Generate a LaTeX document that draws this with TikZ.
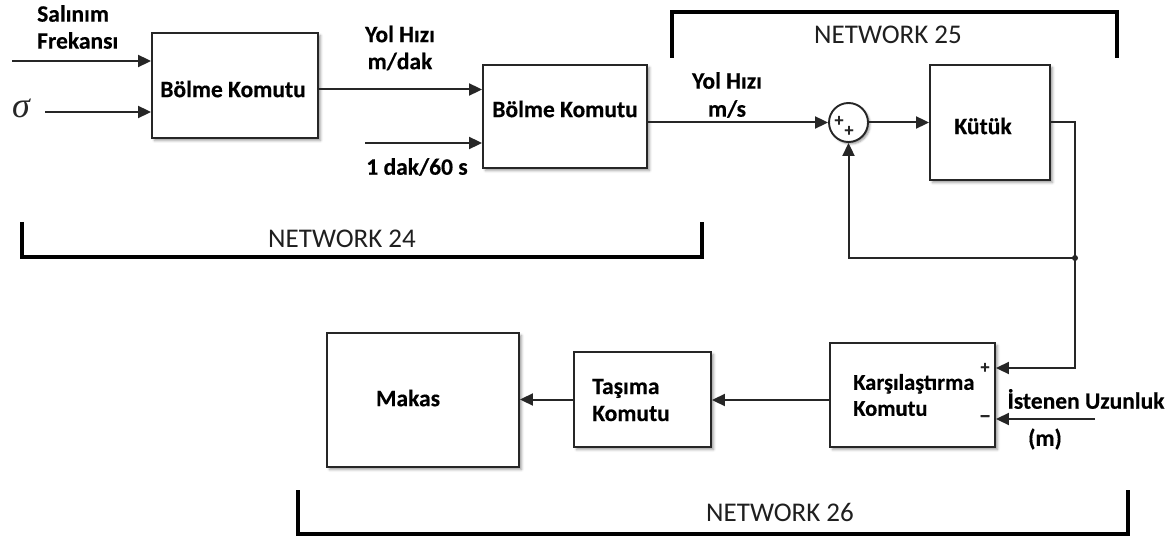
\documentclass[tikz,border=0pt]{standalone}
\usepackage{fontspec}
\setmainfont{Carlito}
\newfontfamily\greekserif{Liberation Serif}
\newfontfamily\heavylabel[FakeBold=0.35]{Carlito Bold}
\usetikzlibrary{arrows.meta,shadows.blur,calc}

\begin{document}
\begin{tikzpicture}[x=1pt,y=-1pt,
  blk/.style={draw=black!85,line width=1.9pt,fill=white,inner sep=0pt,
    blur shadow={shadow xshift=2.5pt,shadow yshift=-2.5pt,shadow blur radius=2.5pt,shadow opacity=40}},
  sumnode/.style={circle,draw=black!85,line width=1.9pt,fill=white,minimum size=39pt,inner sep=0pt,
    blur shadow={shadow xshift=2pt,shadow yshift=-2pt,shadow blur radius=2pt,shadow opacity=40}},
  arr/.style={draw=black!85,line width=2pt,-{Triangle[length=13pt,width=12pt]}},
  wire/.style={draw=black!85,line width=2pt},
  bracketline/.style={draw=black,line width=3.2pt},
  lbl/.style={font=\fontsize{23.5}{27}\selectfont\heavylabel,inner sep=0pt,text=black},
  netlbl/.style={font=\fontsize{27}{30}\selectfont,inner sep=0pt,text=black!88},
  sgn/.style={font=\fontsize{18}{18}\selectfont\heavylabel,inner sep=0pt,text=black!85},
]
\useasboundingbox (0,0) rectangle (1174,537);

% blocks
\node[blk,minimum width=166pt,minimum height=105pt] (b1) at (235,85.5) {};
\node[blk,minimum width=164pt,minimum height=103pt] (b2) at (565,116.5) {};
\node[sumnode] (s) at (848.5,122.5) {};
\node[blk,minimum width=120pt,minimum height=115pt] (k) at (990,122.5) {};
\node[blk,minimum width=165pt,minimum height=104pt] (c) at (912.5,395) {};
\node[blk,minimum width=137pt,minimum height=95pt] (t) at (642.5,399.5) {};
\node[blk,minimum width=192pt,minimum height=134pt] (m) at (423,400) {};

% block texts
\node[lbl] (b1t) at (233,89) {Bölme Komutu};
\node[lbl] (b2t) at (565,109) {Bölme Komutu};
\node[lbl] (kt) at (983,126) {Kütük};
\node[lbl] (mt) at (408,398) {Makas};
\node[lbl,anchor=west,align=left] (tt) at (592,400) {Taşıma\\Komutu};
\node[lbl,anchor=west,align=left,font=\fontsize{22.5}{26}\selectfont\heavylabel] (ct) at (853,395) {Karşılaştırma\\Komutu};

% signs
\node[sgn] (sp1) at (839,121) {+};
\node[sgn] (sp2) at (849,131) {+};
\node[sgn] (cp) at (985,368) {+};
\node[sgn,font=\fontsize{24}{24}\selectfont\heavylabel] (cm) at (985,419) {\textendash};

% free ends
\coordinate (in1) at (12,61);
\coordinate (in2) at (45,112);
\coordinate (in3) at (365,143);
\coordinate (j) at (1075,258);
\coordinate (ist) at (1095,419);

% input labels
\node[lbl,anchor=west,align=left] (frq) at (37,27) {Salınım\\Frekansı};
\node[inner sep=0pt,font=\fontsize{36}{36}\selectfont\greekserif\itshape,text=black!85] (sig) at (21,108) {σ};
\node[lbl,align=center] (v1) at (400,48) {Yol Hızı\\m/dak};
\node[lbl] (d60) at (417,167) {1 dak/60 s};
\node[lbl,align=center,font=\fontsize{23.5}{28}\selectfont\heavylabel] (v2) at (727,95) {Yol Hızı\\m/s};
\node[lbl] (iu) at (1086,399) {İstenen Uzunluk};
\node[lbl] (um) at (1045,439) {(m)};

% connectors
\draw[arr] (in1) -- (in1 -| b1.west);
\draw[arr] (in2) -- (in2 -| b1.west);
\draw[arr] ([yshift=-4pt]b1.east) -- ([yshift=-4pt]b1.east -| b2.west);
\draw[arr] (in3) -- (in3 -| b2.west);
\draw[arr] (s.west -| b2.east) -- (s.west);
\draw[arr] (s.east) -- (s.east -| k.west);
\draw[wire] (k.east) -| (j);
\draw[arr] (j) |- ([yshift=27pt]c.east);
\draw[arr] (j) -| (s.south);
\fill[black!85] (j) circle (3pt);
\draw[arr] (ist) -- (ist -| c.east);
\draw[arr] ([yshift=-5pt]c.west) -- ([yshift=-5pt]c.west -| t.east);
\draw[arr] (t.west) -- (t.west -| m.east);

% network brackets
\draw[bracketline] (22,222) -- (22,257) -- (702,257) -- (702,222);
\node[netlbl] (n24) at (342,239) {NETWORK 24};
\draw[bracketline] (672,58) -- (672,12) -- (1117,12) -- (1117,58);
\node[netlbl] (n25) at (888,35) {NETWORK 25};
\draw[bracketline] (298,490) -- (298,534) -- (1128,534) -- (1128,490);
\node[netlbl] (n26) at (780,512) {NETWORK 26};
\end{tikzpicture}
\end{document}
